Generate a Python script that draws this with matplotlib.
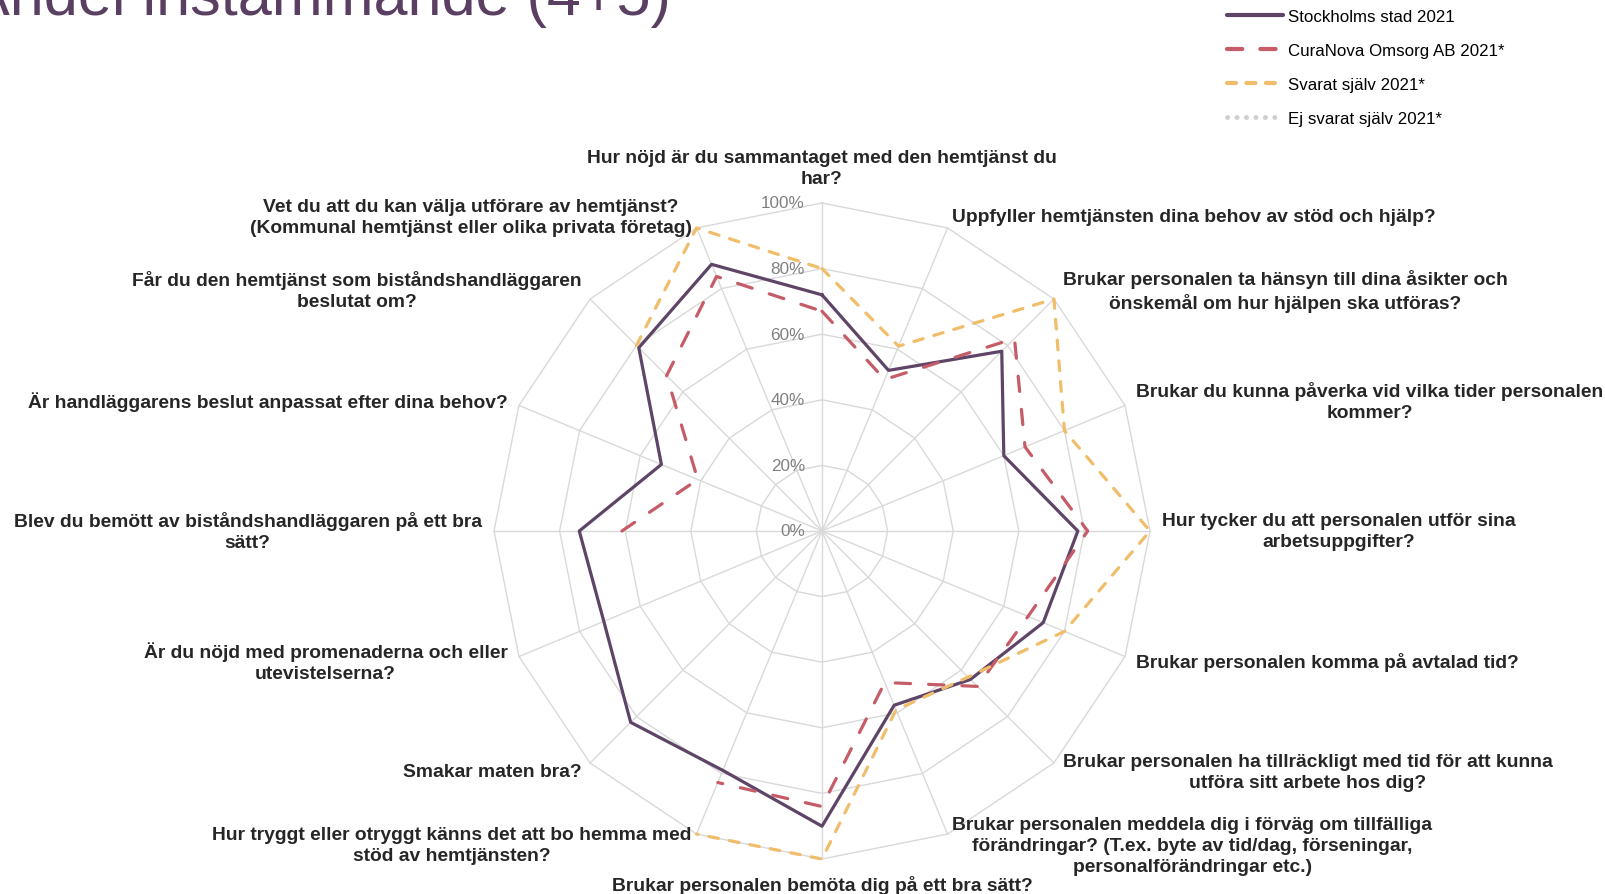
import numpy as np
import matplotlib.pyplot as plt
from matplotlib.lines import Line2D

plt.rcParams['font.family'] = ['Liberation Sans', 'DejaVu Sans']
plt.rcParams['lines.scale_dashes'] = False

# questions, clockwise from the top
questions = [
    'Hur nöjd är du sammantaget med den hemtjänst du\nhar?',
    'Uppfyller hemtjänsten dina behov av stöd och hjälp?',
    'Brukar personalen ta hänsyn till dina åsikter och\nönskemål om hur hjälpen ska utföras?',
    'Brukar du kunna påverka vid vilka tider personalen\nkommer?',
    'Hur tycker du att personalen utför sina\narbetsuppgifter?',
    'Brukar personalen komma på avtalad tid?',
    'Brukar personalen ha tillräckligt med tid för att kunna\nutföra sitt arbete hos dig?',
    'Brukar personalen meddela dig i förväg om tillfälliga\nförändringar? (T.ex. byte av tid/dag, förseningar,\npersonalförändringar etc.)',
    'Brukar personalen bemöta dig på ett bra sätt?',
    'Hur tryggt eller otryggt känns det att bo hemma med\nstöd av hemtjänsten?',
    'Smakar maten bra?',
    'Är du nöjd med promenaderna och eller\nutevistelserna?',
    'Blev du bemött av biståndshandläggaren på ett bra\nsätt?',
    'Är handläggarens beslut anpassat efter dina behov?',
    'Får du den hemtjänst som biståndshandläggaren\nbeslutat om?',
    'Vet du att du kan välja utförare av hemtjänst?\n(Kommunal hemtjänst eller olika privata företag)',
]

series_names = ['Stockholms stad 2021', 'CuraNova Omsorg AB 2021*',
                'Svarat själv 2021*', 'Ej svarat själv 2021*']

nan = np.nan
stockholm = [72, 53, 77.5, 60, 78, 73, 64, 57.5, 90, 79, 82.5, 72, 74, 53, 79, 88]
curanova = [67, 50, 83, 67, 81, 68, 67, 50, 84, 83, nan, nan, 61, 41, 67, 84]
svarat_sjalv = [80, 61, 100, 80, 100, 80, 63, 59, 100, 100, nan, nan, nan, nan, 80, 100]
ej_svarat_sjalv = [nan] * 16

ring_ticks = [0, 20, 40, 60, 80, 100]
tick_labels = ['0%', '20%', '40%', '60%', '80%', '100%']

colors = ['#5E4467', '#C55C68', '#F0BD6B', '#D3D3D3']

n = len(questions)
angles = np.arange(n) * 2 * np.pi / n


def to_xy(values):
    r = np.asarray(values, dtype=float) / 100.0
    r = np.append(r, r[0])
    a = np.append(angles, angles[0])
    return r * np.sin(a), r * np.cos(a)


fig = plt.figure(figsize=(16.06, 8.95), dpi=100)
ax = fig.add_axes([0, 0, 1, 1])
# center of the web at pixel (822, 532), 100% radius = 328 px
R = 328.0
ax.set_xlim(-822 / R, (1606 - 822) / R)
ax.set_ylim((532 - 895) / R, 532 / R)
ax.axis('off')

grid_c = '#D9D9D9'
for t in ring_ticks[1:]:
    gx, gy = to_xy([t] * n)
    ax.plot(gx, gy, color=grid_c, lw=1, zorder=1)
for a in angles:
    ax.plot([0, np.sin(a)], [0, np.cos(a)], color=grid_c, lw=1, zorder=1)

for t, lab in zip(ring_ticks, tick_labels):
    ax.text(-0.052, t / 100, lab, ha='right', va='center', fontsize=12.3,
            color='#808080')

# data series
x, y = to_xy(stockholm)
ax.plot(x, y, color=colors[0], lw=2.3, solid_joinstyle='round', zorder=3)
x, y = to_xy(curanova)
ax.plot(x, y, color=colors[1], lw=2.3, dashes=(11, 13),
        dash_capstyle='round', dash_joinstyle='round', zorder=4)
x, y = to_xy(svarat_sjalv)
ax.plot(x, y, color=colors[2], lw=2.3, dashes=(7, 8),
        dash_capstyle='round', dash_joinstyle='round', zorder=5)
x, y = to_xy(ej_svarat_sjalv)
ax.plot(x, y, color=colors[3], lw=2.3, dashes=(0.1, 6.7),
        dash_capstyle='round', zorder=6)

# category labels
pad = 1 + 12.3 / R
pad_v = 1 + 16 / R
for a, q in zip(angles, questions):
    s, c = np.sin(a), np.cos(a)
    if abs(s) < 1e-6:
        ha = 'center'
        va = 'bottom' if c > 0 else 'top'
        px, py = 0, pad_v * c
    else:
        ha = 'left' if s > 0 else 'right'
        va = 'center'
        px, py = pad * s, pad * c
    ax.text(px, py, q, ha=ha, va=va, multialignment='center',
            fontsize=13.85, fontweight='bold', color='#262626', linespacing=1.3)

# title (cut off at the top edge, as in the source)
fig.text(-31 / 1606, 1 - 15 / 895, 'Andel instämmande (4+5)', fontsize=44,
         color='#5B3F63', ha='left', va='baseline')

handles = [
    Line2D([], [], color=colors[0], lw=3, solid_capstyle='round'),
    Line2D([], [], color=colors[1], lw=3, dashes=(11, 13), dash_capstyle='round'),
    Line2D([], [], color=colors[2], lw=3, dashes=(6.5, 7.5), dash_capstyle='round'),
    Line2D([], [], color='#CFCFCF', lw=3.5, dashes=(0.1, 6.7), dash_capstyle='round'),
]
fig.legend(handles, series_names, loc='upper left',
           bbox_to_anchor=(1227 / 1606, 1 - 10.4 / 895), frameon=False,
           fontsize=12.2, handlelength=3.3, handletextpad=0.3,
           labelspacing=1.12, borderpad=0, borderaxespad=0)

fig.savefig('out.png', dpi=100)
